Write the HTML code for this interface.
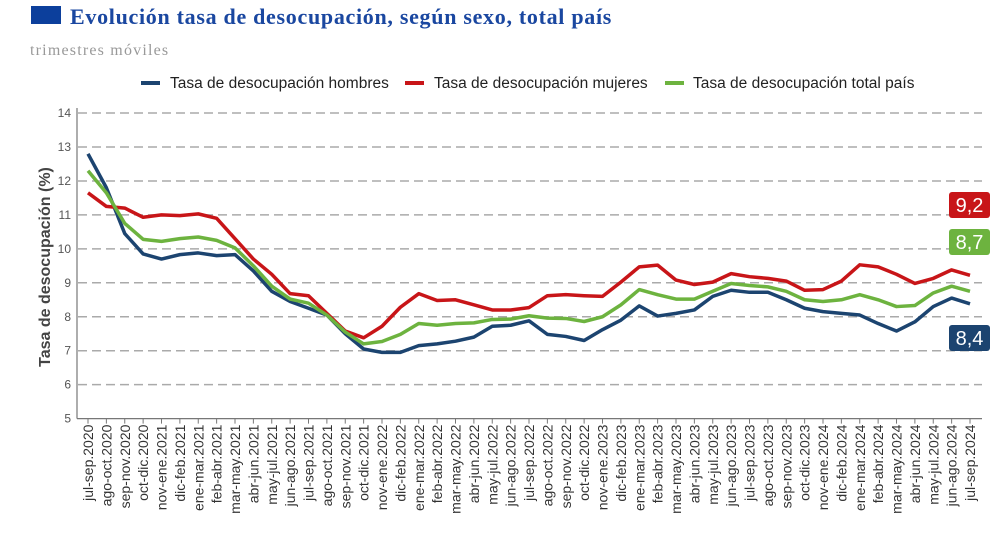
<!DOCTYPE html>
<html><head><meta charset="utf-8"><style>
body{margin:0;background:#fff;width:1007px;height:528px;overflow:hidden;font-family:"Liberation Sans",sans-serif}
</style></head><body>
<svg width="1007" height="528" xmlns="http://www.w3.org/2000/svg">
<rect x="31" y="6" width="30" height="18" fill="#0c3f9c"/>
<text x="70" y="24" font-family="Liberation Serif,serif" font-weight="bold" font-size="22" letter-spacing="0.7" fill="#1a47a0">Evolución tasa de desocupación, según sexo, total país</text>
<text x="30" y="55" font-family="Liberation Serif,serif" font-size="16" fill="#999" letter-spacing="1.2">trimestres móviles</text>
<g font-size="15.5" fill="#222">
<g><line x1="141" y1="83" x2="160" y2="83" stroke="#1c4470" stroke-width="4"/><text x="170" y="88">Tasa de desocupación hombres</text></g>
<g><line x1="405" y1="83" x2="424" y2="83" stroke="#c81518" stroke-width="4"/><text x="434" y="88">Tasa de desocupación mujeres</text></g>
<g><line x1="665" y1="83" x2="684" y2="83" stroke="#6db33f" stroke-width="4"/><text x="693" y="88">Tasa de desocupación total país</text></g>
</g>
<text transform="translate(50,267) rotate(-90)" text-anchor="middle" font-size="16" font-weight="bold" fill="#444">Tasa de desocupación (%)</text>
<g id="grid"></g><g id="axes"></g><g id="series"></g><g id="labels"></g>
</svg>
<script>
const categories=["jul-sep.2020","ago-oct.2020","sep-nov.2020","oct-dic.2020","nov-ene.2021","dic-feb.2021","ene-mar.2021","feb-abr.2021","mar-may.2021","abr-jun.2021","may-jul.2021","jun-ago.2021","jul-sep.2021","ago-oct.2021","sep-nov.2021","oct-dic.2021","nov-ene.2022","dic-feb.2022","ene-mar.2022","feb-abr.2022","mar-may.2022","abr-jun.2022","may-jul.2022","jun-ago.2022","jul-sep.2022","ago-oct.2022","sep-nov.2022","oct-dic.2022","nov-ene.2023","dic-feb.2023","ene-mar.2023","feb-abr.2023","mar-may.2023","abr-jun.2023","may-jul.2023","jun-ago.2023","jul-sep.2023","ago-oct.2023","sep-nov.2023","oct-dic.2023","nov-ene.2024","dic-feb.2024","ene-mar.2024","feb-abr.2024","mar-may.2024","abr-jun.2024","may-jul.2024","jun-ago.2024","jul-sep.2024"];
const hombres=[12.8,11.8,10.45,9.85,9.7,9.83,9.88,9.8,9.83,9.35,8.75,8.45,8.25,8.05,7.5,7.05,6.95,6.95,7.15,7.2,7.28,7.4,7.72,7.75,7.88,7.48,7.42,7.3,7.62,7.9,8.32,8.02,8.1,8.2,8.6,8.78,8.72,8.72,8.5,8.25,8.15,8.1,8.05,7.8,7.58,7.85,8.3,8.55,8.38];
const mujeres=[11.65,11.25,11.2,10.93,11.0,10.98,11.03,10.9,10.3,9.7,9.25,8.68,8.62,8.1,7.58,7.38,7.72,8.28,8.68,8.48,8.5,8.35,8.2,8.2,8.27,8.62,8.65,8.62,8.6,9.02,9.47,9.52,9.08,8.95,9.02,9.27,9.18,9.13,9.05,8.78,8.8,9.05,9.53,9.47,9.25,8.98,9.13,9.38,9.22];
const total=[12.3,11.65,10.75,10.28,10.22,10.3,10.35,10.25,10.03,9.5,8.9,8.52,8.4,8.05,7.55,7.2,7.27,7.48,7.8,7.75,7.8,7.82,7.92,7.93,8.03,7.96,7.95,7.86,8.0,8.35,8.8,8.65,8.52,8.52,8.75,8.98,8.92,8.88,8.75,8.5,8.45,8.5,8.65,8.5,8.3,8.33,8.7,8.9,8.75];
const yTicks=[5,6,7,8,9,10,11,12,13,14];
const endLabels=["8,4","9,2","8,7"];
const NS="http://www.w3.org/2000/svg";
const x0=88,x1=970,yB=418.6,yU=33.95;
const xs=i=>x0+i*(x1-x0)/(categories.length-1);
const ys=v=>yB-(v-5)*yU;
function mk(t,a,p){const e=document.createElementNS(NS,t);for(const k in a)e.setAttribute(k,a[k]);p.appendChild(e);return e;}
const grid=document.getElementById('grid'),axes=document.getElementById('axes'),ser=document.getElementById('series'),lab=document.getElementById('labels');
yTicks.forEach(v=>{
 if(v>5){const g=mk('line',{x1:78,x2:982,y1:ys(v),y2:ys(v),stroke:'#aaa','stroke-width':1.5,'stroke-dasharray':'9,5'},grid);
 
 }
 const t=mk('text',{x:71,y:ys(v)+4,'text-anchor':'end','font-size':12,fill:'#555'},axes);t.textContent=v;
 
 
});
const ya=mk('line',{x1:77,x2:77,y1:108,y2:yB,stroke:'#777','stroke-width':1.2},axes);


const xa=mk('line',{x1:77,x2:982,y1:yB,y2:yB,stroke:'#777','stroke-width':1.2},axes);


categories.forEach((c,i)=>{
 mk('line',{x1:xs(i),x2:xs(i),y1:yB,y2:yB+5,stroke:'#777'},axes);
 const t=mk('text',{transform:`translate(${xs(i)+5},${yB+6}) rotate(-90)`,'text-anchor':'end','font-size':14,fill:'#333'},axes);t.textContent=c;
 
 
});
[[hombres,'#1c4470','line-hombres'],[mujeres,'#c81518','line-mujeres'],[total,'#6db33f','line-total']].forEach(([d,c,n])=>{
 const p=mk('polyline',{points:d.map((v,i)=>xs(i)+','+ys(v)).join(' '),fill:'none',stroke:c,'stroke-width':3.5,'stroke-linejoin':'round'},ser);
 
 
});
[[endLabels[1],'#c81518',205],[endLabels[2],'#6db33f',242],[endLabels[0],'#1c4470',338]].forEach(([s,c,y])=>{
 const g=mk('g',{},lab);
 
 
 mk('rect',{x:949,y:y-13,width:41,height:26,rx:3,fill:c},g);
 const t=mk('text',{x:969.5,y:y+7,'text-anchor':'middle','font-size':20,fill:'#fff'},g);t.textContent=s;
});
</script>
</body></html>
